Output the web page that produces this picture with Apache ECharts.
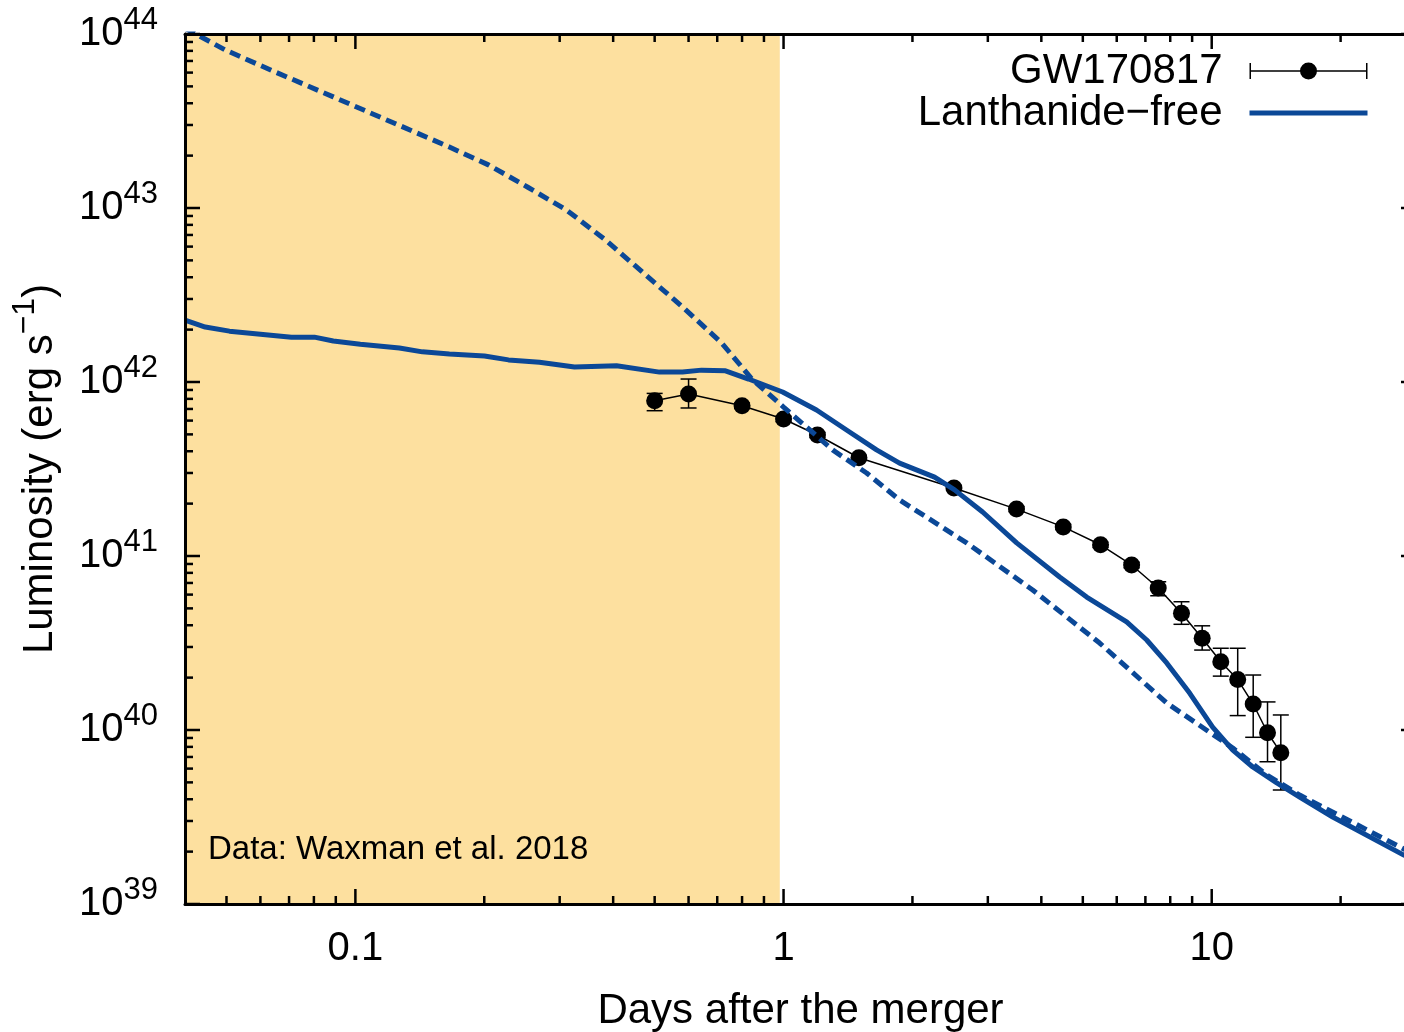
<!DOCTYPE html>
<html>
<head>
<meta charset="utf-8">
<script src="https://cdn.jsdelivr.net/npm/echarts@6/dist/echarts.min.js"></script>
<style>
html,body{margin:0;padding:0;background:#fff;overflow:hidden;width:1404px;height:1032px;}
#c{width:1416px;height:1032px;}
</style>
</head>
<body>
<div id="c"></div>
<script>
// ---------------- data ----------------
const xRange = [0.04, 30];
const yRange = [1e39, 1e44];
const shadeRange = [0.04, 0.98];

const xTickValues = [0.1, 1, 10];
const xTickLabels = ['0.1', '1', '10'];
const xMinorTicks = [0.05, 0.06, 0.07, 0.08, 0.09, 0.2, 0.3, 0.4, 0.5, 0.6, 0.7, 0.8, 0.9, 2, 3, 4, 5, 6, 7, 8, 9, 20];
const yTickExponents = [39, 40, 41, 42, 43, 44];
const yMinorMultipliers = [2, 3, 4, 5, 6, 7, 8, 9];

// GW170817 bolometric data (Waxman et al. 2018)
const gwTime = [0.5, 0.6, 0.8, 1.0, 1.2, 1.5, 2.5, 3.5, 4.5, 5.5, 6.5, 7.5, 8.5, 9.5, 10.5, 11.5, 12.5, 13.5, 14.5];
const gwLum  = [7.81e41, 8.53e41, 7.31e41, 6.13e41, 4.96e41, 3.67e41, 2.46e41, 1.86e41, 1.47e41, 1.16e41, 8.88e40, 6.55e40, 4.69e40, 3.37e40, 2.47e40, 1.95e40, 1.41e40, 9.64e39, 7.41e39];
const gwLow  = [6.84e41, 7.09e41, 7.05e41, 5.92e41, 4.80e41, 3.56e41, 2.39e41, 1.80e41, 1.42e41, 1.12e41, 8.55e40, 5.91e40, 4.05e40, 2.88e40, 2.04e40, 1.21e40, 9.08e39, 6.57e39, 4.52e39];
const gwHigh = [8.60e41, 1.04e42, 7.58e41, 6.35e41, 5.12e41, 3.79e41, 2.54e41, 1.92e41, 1.52e41, 1.20e41, 9.20e40, 7.11e40, 5.46e40, 3.97e40, 2.95e40, 2.95e40, 2.07e40, 1.45e40, 1.22e40];

// Lanthanide-free model (solid)
const solidTime = [0.04, 0.0446, 0.0508, 0.0709, 0.0802, 0.0888, 0.1027, 0.1267, 0.1434, 0.1658, 0.2002, 0.2278, 0.2691, 0.3249, 0.4073, 0.5131, 0.5808, 0.6435, 0.7318, 0.8284, 0.995, 1.194, 1.426, 1.649, 1.866, 2.253, 2.509, 2.917, 3.503, 4.414, 5.105, 6.329, 7.05, 7.85, 8.88, 10.05, 11.2, 12.47, 14.19, 16.05, 19.17, 28.1, 30];
const solidLum  = [2.27e42, 2.07e42, 1.96e42, 1.81e42, 1.81e42, 1.72e42, 1.65e42, 1.57e42, 1.49e42, 1.45e42, 1.41e42, 1.34e42, 1.30e42, 1.22e42, 1.24e42, 1.14e42, 1.14e42, 1.17e42, 1.16e42, 1.04e42, 8.76e41, 6.90e41, 5.16e41, 4.07e41, 3.42e41, 2.84e41, 2.40e41, 1.79e41, 1.19e41, 7.57e40, 5.81e40, 4.18e40, 3.29e40, 2.43e40, 1.63e40, 1.04e40, 7.67e39, 6.13e39, 4.96e39, 4.12e39, 3.16e39, 1.91e39, 1.77e39];

// Heating rate (dashed)
const dashTime = [0.04, 0.0497, 0.0650, 0.0888, 0.1214, 0.1658, 0.2045, 0.2522, 0.3112, 0.3838, 0.4709, 0.5808, 0.7164, 0.8464, 1.0, 1.302, 1.563, 1.866, 2.677, 3.818, 5.474, 7.85, 11.2, 13.45, 16.05, 28.1, 30];
const dashLum  = [1.08e44, 8.09e43, 6.05e43, 4.35e43, 3.12e43, 2.24e43, 1.77e43, 1.32e43, 9.74e42, 6.55e42, 4.23e42, 2.70e42, 1.68e42, 1.03e42, 7.18e41, 4.07e41, 3.00e41, 2.10e41, 1.19e41, 6.38e40, 3.16e40, 1.43e40, 7.88e39, 5.51e39, 4.23e39, 2.07e39, 1.92e39];

const seriesNames = ['GW170817', 'Lanthanide\u2212free'];
const noteText = 'Data: Waxman et al. 2018';

// ---------------- chart ----------------
const FONT = "'Liberation Sans', Arial, Helvetica, sans-serif";
const BLUE = '#0b4897';
const SHADE = '#fde09f';
const LW = 5;

const zip = (a, b) => a.map((v, i) => [v, b[i]]);

const xTickData = xTickValues.map(v => [v, yRange[0], 1]).concat(xMinorTicks.map(v => [v, yRange[0], 0]));
const yTickData = [];
yTickExponents.forEach(e => {
  yTickData.push([xRange[0], Math.pow(10, e), 1]);
  if (e < yTickExponents[yTickExponents.length - 1]) {
    yMinorMultipliers.forEach(m => yTickData.push([xRange[0], m * Math.pow(10, e), 0]));
  }
});

const GW_ICON = 'path://M0 7.75H118V9.25H0Z M0 0.5H1.5V16.5H0Z M116.5 0.5H118V16.5H116.5Z M50.5 8.5A8.5 8.5 0 1 1 67.5 8.5A8.5 8.5 0 1 1 50.5 8.5Z';

const tickStyle = {stroke: '#000', lineWidth: 2.5};
const MAJOR = 15, MINOR = 8;

const supRich = {fontSize: 31, height: 12, lineHeight: 12, verticalAlign: 'top', fontFamily: FONT, color: '#000'};
const supRichName = {fontSize: 32, height: 12, lineHeight: 12, verticalAlign: 'top', fontFamily: FONT, color: '#000'};

const chart = echarts.init(document.getElementById('c'), null, {renderer: 'canvas'});
chart.setOption({
  animation: false,
  backgroundColor: '#fff',
  grid: {left: 185, top: 34, right: 0, bottom: 128, containLabel: false, outerBoundsMode: 'none'},
  legend: {
    orient: 'vertical', right: 46, top: 50, align: 'right', padding: 0,
    itemWidth: 118, itemHeight: 17, itemGap: 0, selectedMode: false,
    itemStyle: {borderWidth: 0},
    lineStyle: {width: LW},
    textStyle: {fontSize: 42, color: '#000', fontFamily: FONT, padding: [0, 22, 0, 0]},
    data: [
      {name: seriesNames[0], icon: GW_ICON},
      {name: seriesNames[1], itemStyle: {opacity: 0, color: 'rgba(0,0,0,0)'}, lineStyle: {width: LW, color: BLUE}}
    ]
  },
  graphic: [{
    type: 'text', left: 208, top: 833, z: 20,
    style: {text: noteText, font: '33px ' + FONT, fill: '#000'}
  }],
  xAxis: [{
    type: 'log', logBase: 10, min: xRange[0], max: xRange[1], position: 'bottom', z: 10,
    axisLine: {show: true, onZero: false, lineStyle: {color: '#000', width: 3}},
    axisTick: {show: false}, minorTick: {show: false}, splitLine: {show: false},
    axisLabel: {
      show: true, showMinLabel: false, showMaxLabel: false, margin: 25,
      fontSize: 40, color: '#000', fontFamily: FONT,
      formatter: v => {
        for (let i = 0; i < xTickValues.length; i++) {
          if (Math.abs(Math.log10(v) - Math.log10(xTickValues[i])) < 1e-6) return xTickLabels[i];
        }
        return '';
      }
    },
    name: 'Days after the merger', nameLocation: 'middle', nameGap: 86,
    nameTextStyle: {fontSize: 42, color: '#000', fontFamily: FONT}
  }, {
    type: 'log', logBase: 10, min: xRange[0], max: xRange[1], position: 'top', z: 10,
    axisLine: {show: true, onZero: false, lineStyle: {color: '#000', width: 3}},
    axisTick: {show: false}, axisLabel: {show: false}, splitLine: {show: false}
  }],
  yAxis: [{
    type: 'log', logBase: 10, min: yRange[0], max: yRange[1], position: 'left', z: 10,
    axisLine: {show: true, onZero: false, lineStyle: {color: '#000', width: 3}},
    axisTick: {show: false}, minorTick: {show: false}, splitLine: {show: false},
    axisLabel: {
      show: true, margin: 27, color: '#000', fontFamily: FONT,
      formatter: v => '{b|10}{s|' + Math.round(Math.log10(v)) + '}',
      rich: {
        b: {fontSize: 40, lineHeight: 40, fontFamily: FONT, color: '#000'},
        s: supRich
      }
    },
    name: '{n|Luminosity (erg s}{s|\u22121}{n|)}', nameLocation: 'middle', nameGap: 124, nameRotate: 90,
    nameTextStyle: {
      rich: {
        n: {fontSize: 42, lineHeight: 42, fontFamily: FONT, color: '#000'},
        s: supRichName
      }
    }
  }, {
    type: 'log', logBase: 10, min: yRange[0], max: yRange[1], position: 'right', z: 10,
    axisLine: {show: true, onZero: false, lineStyle: {color: '#000', width: 3}},
    axisTick: {show: false}, axisLabel: {show: false}, splitLine: {show: false}
  }],
  series: [
    {
      name: 'shade', type: 'line', data: [], z: 1, silent: true,
      markArea: {silent: true, itemStyle: {color: SHADE}, data: [[{xAxis: shadeRange[0]}, {xAxis: shadeRange[1]}]]}
    },
    {
      name: seriesNames[0], type: 'custom', z: 2, silent: true,
      itemStyle: {color: '#000'},
      encode: {x: 0, y: [1, 2]},
      data: gwTime.map((t, i) => [t, gwLow[i], gwHigh[i]]),
      renderItem: (params, api) => {
        const x = api.value(0);
        const lo = api.coord([x, api.value(1)]);
        const hi = api.coord([x, api.value(2)]);
        const cw = 8;
        const st = {stroke: '#000', lineWidth: 1.5};
        return {type: 'group', children: [
          {type: 'line', shape: {x1: lo[0], y1: lo[1], x2: hi[0], y2: hi[1]}, style: st},
          {type: 'line', shape: {x1: lo[0] - cw, y1: lo[1], x2: lo[0] + cw, y2: lo[1]}, style: st},
          {type: 'line', shape: {x1: hi[0] - cw, y1: hi[1], x2: hi[0] + cw, y2: hi[1]}, style: st}
        ]};
      }
    },
    {
      name: seriesNames[0], type: 'line', z: 2, silent: true,
      data: zip(gwTime, gwLum),
      symbol: 'circle', symbolSize: 17, showSymbol: true,
      itemStyle: {color: '#000'},
      lineStyle: {color: '#000', width: 1.5}
    },
    {
      name: 'heating', type: 'line', z: 3, silent: true, clip: true,
      data: zip(dashTime, dashLum), symbol: 'none', smooth: false,
      lineStyle: {color: BLUE, width: LW, type: [11, 6], cap: 'butt'}
    },
    {
      name: seriesNames[1], type: 'line', z: 3, silent: true, clip: true,
      data: zip(solidTime, solidLum), symbol: 'none', smooth: false,
      itemStyle: {color: BLUE},
      lineStyle: {color: BLUE, width: LW}
    },
    {
      name: 'xticks', type: 'custom', z: 5, silent: true,
      encode: {x: 0, y: 1},
      data: xTickData,
      renderItem: (params, api) => {
        const cs = params.coordSys;
        const p = api.coord([api.value(0), api.value(1)]);
        const len = api.value(2) ? MAJOR : MINOR;
        const yb = cs.y + cs.height, yt = cs.y;
        return {type: 'group', children: [
          {type: 'line', shape: {x1: p[0], y1: yb, x2: p[0], y2: yb - len}, style: tickStyle},
          {type: 'line', shape: {x1: p[0], y1: yt, x2: p[0], y2: yt + len}, style: tickStyle}
        ]};
      }
    },
    {
      name: 'yticks', type: 'custom', z: 5, silent: true,
      encode: {x: 0, y: 1},
      data: yTickData,
      renderItem: (params, api) => {
        const cs = params.coordSys;
        const p = api.coord([api.value(0), api.value(1)]);
        const len = api.value(2) ? MAJOR : MINOR;
        const xl = cs.x, xr = cs.x + cs.width;
        return {type: 'group', children: [
          {type: 'line', shape: {x1: xl, y1: p[1], x2: xl + len, y2: p[1]}, style: tickStyle},
          {type: 'line', shape: {x1: xr, y1: p[1], x2: xr - len, y2: p[1]}, style: tickStyle}
        ]};
      }
    }
  ]
});
</script>
</body>
</html>
